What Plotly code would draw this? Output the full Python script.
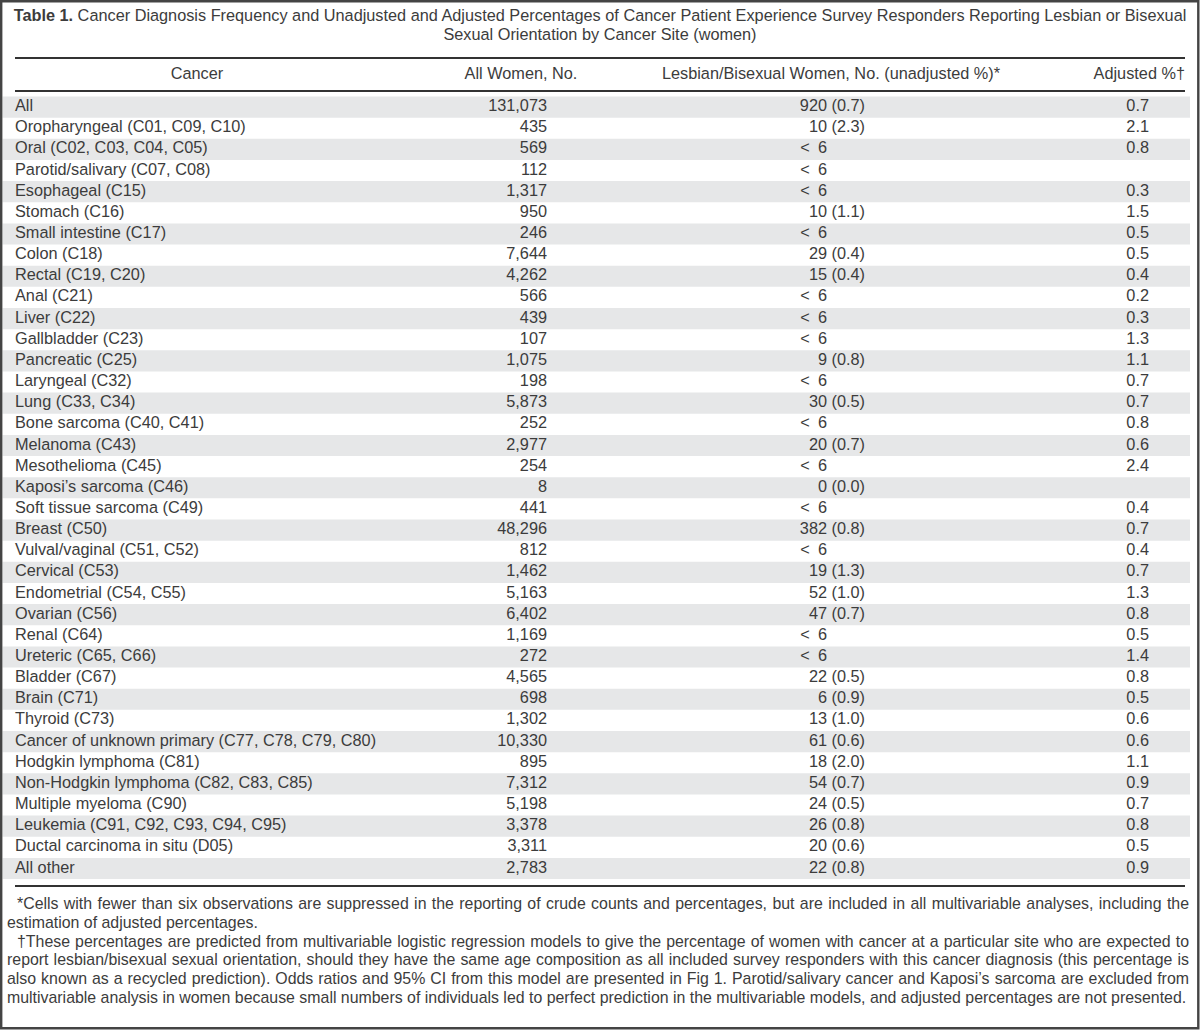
import plotly.graph_objects as go

# ---------------- data ----------------
cancers = [
    "All", "Oropharyngeal (C01, C09, C10)", "Oral (C02, C03, C04, C05)",
    "Parotid/salivary (C07, C08)", "Esophageal (C15)", "Stomach (C16)",
    "Small intestine (C17)", "Colon (C18)", "Rectal (C19, C20)", "Anal (C21)",
    "Liver (C22)", "Gallbladder (C23)", "Pancreatic (C25)", "Laryngeal (C32)",
    "Lung (C33, C34)", "Bone sarcoma (C40, C41)", "Melanoma (C43)",
    "Mesothelioma (C45)", "Kaposi\u2019s sarcoma (C46)", "Soft tissue sarcoma (C49)",
    "Breast (C50)", "Vulval/vaginal (C51, C52)", "Cervical (C53)",
    "Endometrial (C54, C55)", "Ovarian (C56)", "Renal (C64)", "Ureteric (C65, C66)",
    "Bladder (C67)", "Brain (C71)", "Thyroid (C73)",
    "Cancer of unknown primary (C77, C78, C79, C80)", "Hodgkin lymphoma (C81)",
    "Non-Hodgkin lymphoma (C82, C83, C85)", "Multiple myeloma (C90)",
    "Leukemia (C91, C92, C93, C94, C95)", "Ductal carcinoma in situ (D05)", "All other",
]
all_women = [131073, 435, 569, 112, 1317, 950, 246, 7644, 4262, 566, 439, 107,
             1075, 198, 5873, 252, 2977, 254, 8, 441, 48296, 812, 1462, 5163,
             6402, 1169, 272, 4565, 698, 1302, 10330, 895, 7312, 5198, 3378,
             3311, 2783]
# None = suppressed (< 6)
lb_count = [920, 10, None, None, None, 10, None, 29, 15, None, None, None, 9,
            None, 30, None, 20, None, 0, None, 382, None, 19, 52, 47, None,
            None, 22, 6, 13, 61, 18, 54, 24, 26, 20, 22]
lb_pct = [0.7, 2.3, None, None, None, 1.1, None, 0.4, 0.4, None, None, None,
          0.8, None, 0.5, None, 0.7, None, 0.0, None, 0.8, None, 1.3, 1.0,
          0.7, None, None, 0.5, 0.9, 1.0, 0.6, 2.0, 0.7, 0.5, 0.8, 0.6, 0.8]
adjusted = [0.7, 2.1, 0.8, None, 0.3, 1.5, 0.5, 0.5, 0.4, 0.2, 0.3, 1.3, 1.1,
            0.7, 0.7, 0.8, 0.6, 2.4, None, 0.4, 0.7, 0.4, 0.7, 1.3, 0.8, 0.5,
            1.4, 0.8, 0.5, 0.6, 0.6, 1.1, 0.9, 0.7, 0.8, 0.5, 0.9]
headers = ["Cancer", "All Women, No.",
           "Lesbian/Bisexual Women, No. (unadjusted %)*", "Adjusted %\u2020"]
title_lines = [
    "<b>Table 1.</b> Cancer Diagnosis Frequency and Unadjusted and Adjusted Percentages "
    "of Cancer Patient Experience Survey Responders Reporting Lesbian or Bisexual",
    "Sexual Orientation by Cancer Site (women)",
]
# (text, indented, justified)
footnotes = [
    ("*Cells with fewer than six observations are suppressed in the reporting of crude counts and percentages, but are included in all multivariable analyses, including the", True, True),
    ("estimation of adjusted percentages.", False, False),
    ("\u2020These percentages are predicted from multivariable logistic regression models to give the percentage of women with cancer at a particular site who are expected to", True, True),
    ("report lesbian/bisexual sexual orientation, should they have the same age composition as all included survey responders with this cancer diagnosis (this percentage is", False, True),
    ("also known as a recycled prediction). Odds ratios and 95% CI from this model are presented in Fig 1. Parotid/salivary cancer and Kaposi\u2019s sarcoma are excluded from", False, True),
    ("multivariable analysis in women because small numbers of individuals led to perfect prediction in the multivariable models, and adjusted percentages are not presented.", False, False),
]

# ---------------- layout constants ----------------
W, H = 1200, 1030
FONT = "Liberation Sans"
FS = 16.3
FS_TITLE = 16.3
FS_FOOT = 15.9
TXT = "#3c3c3c"
BAND = "#e6e7e8"
RULE = "#333333"
LEFT, RIGHT = 15, 1185
TITLE_Y = [17, 36]
TOP_RULE, HEAD_Y, HEAD_RULE = 58, 75, 91
ROW_TOP, ROW_H = 96.5, 21.15
n = len(cancers)
BOTTOM_RULE = ROW_TOP + n * ROW_H + 7
FOOT_Y0, FOOT_DY = 905, 18.8
FOOT_L, FOOT_R, FOOT_INDENT = 7, 1189, 10

X_CANCER = LEFT
X_ALL = 547
X_CNT = 827
X_ADJ = 1149

# Arial / Liberation Sans advance widths (1/1000 em) used to justify footnotes
_W = {" ": 278, ",": 278, ".": 278, "(": 333, ")": 333, "/": 278, "%": 889,
      "*": 389, "-": 333, "\u2020": 556, "\u2019": 222, "'": 191}
_W.update({d: 556 for d in "0123456789"})
_W.update(dict(zip("ABCDEFGHIJKLMNOPQRSTUVWXYZ",
                   [667, 667, 722, 722, 667, 611, 778, 722, 278, 500, 667, 556, 833,
                    722, 778, 667, 778, 722, 667, 611, 722, 667, 944, 667, 667, 611])))
_W.update(dict(zip("abcdefghijklmnopqrstuvwxyz",
                   [556, 556, 500, 556, 556, 278, 556, 556, 222, 222, 500, 222, 833,
                    556, 556, 556, 556, 333, 500, 278, 556, 500, 722, 500, 500, 500])))


def text_width(s, size):
    return sum(_W.get(c, 556) for c in s) * size / 1000.0


row_y = [ROW_TOP + (i + 0.5) * ROW_H for i in range(n)]

fig = go.Figure()


def text_trace(xs, ys, texts, pos, size=FS, color=TXT):
    fig.add_trace(go.Scatter(
        x=xs, y=ys, text=texts, mode="text", textposition=pos,
        textfont=dict(family=FONT, size=size, color=color),
        hoverinfo="skip", showlegend=False, cliponaxis=False))


# body columns
text_trace([X_CANCER] * n, row_y, cancers, "middle right")
text_trace([X_ALL] * n, row_y, [f"{v:,}" for v in all_women], "middle left")
cnt_txt = ["<\u20026" if c is None else str(c) for c in lb_count]
text_trace([X_CNT] * n, row_y, cnt_txt, "middle left")
pct_txt = ["" if p is None else f" ({p:.1f})" for p in lb_pct]
text_trace([X_CNT] * n, row_y, pct_txt, "middle right")
adj_txt = ["" if a is None else f"{a:.1f}" for a in adjusted]
text_trace([X_ADJ] * n, row_y, adj_txt, "middle left")

# headers
text_trace([197, 521, 831, RIGHT], [HEAD_Y] * 4, headers,
           ["middle center", "middle center", "middle center", "middle left"])

# title
text_trace([600, 600], TITLE_Y, title_lines, "middle center", size=FS_TITLE)

# footnotes (justified lines are laid out word by word)
fx, fy, ft = [], [], []
for i, (line, indent, justify) in enumerate(footnotes):
    y = FOOT_Y0 + i * FOOT_DY
    x0 = FOOT_L + (FOOT_INDENT if indent else 0)
    if justify:
        words = line.split(" ")
        ww = [text_width(w, FS_FOOT) for w in words]
        gap = (FOOT_R - x0 - sum(ww)) / (len(words) - 1)
        x = x0
        for w, wdt in zip(words, ww):
            fx.append(x); fy.append(y); ft.append(w)
            x += wdt + gap
    else:
        fx.append(x0); fy.append(y); ft.append(line)
text_trace(fx, fy, ft, "middle right", size=FS_FOOT)

shapes = []
# alternating bands
for i in range(0, n, 2):
    shapes.append(dict(type="rect", xref="x", yref="y", x0=2.5, x1=1190,
                       y0=ROW_TOP + i * ROW_H, y1=ROW_TOP + (i + 1) * ROW_H,
                       fillcolor=BAND, line=dict(width=0), layer="below"))
# rules
for yy in (TOP_RULE, HEAD_RULE, BOTTOM_RULE):
    shapes.append(dict(type="line", xref="x", yref="y", x0=LEFT, x1=RIGHT,
                       y0=yy, y1=yy, line=dict(color=RULE, width=2)))
# outer frame
shapes.append(dict(type="rect", xref="x", yref="y", x0=1.2, x1=1198.3, y0=1.2, y1=1028.3,
                   line=dict(color="#444444", width=2.4), fillcolor="rgba(0,0,0,0)"))

fig.update_layout(
    width=W, height=H, margin=dict(l=0, r=0, t=0, b=0),
    paper_bgcolor="white", plot_bgcolor="white", shapes=shapes,
    xaxis=dict(range=[0, W], visible=False, fixedrange=True),
    yaxis=dict(range=[H, 0], visible=False, fixedrange=True),
    showlegend=False,
)
fig.write_html("out.html", config={"displayModeBar": False},
               post_script="document.body.style.margin='0px';document.body.style.overflow='hidden';")
